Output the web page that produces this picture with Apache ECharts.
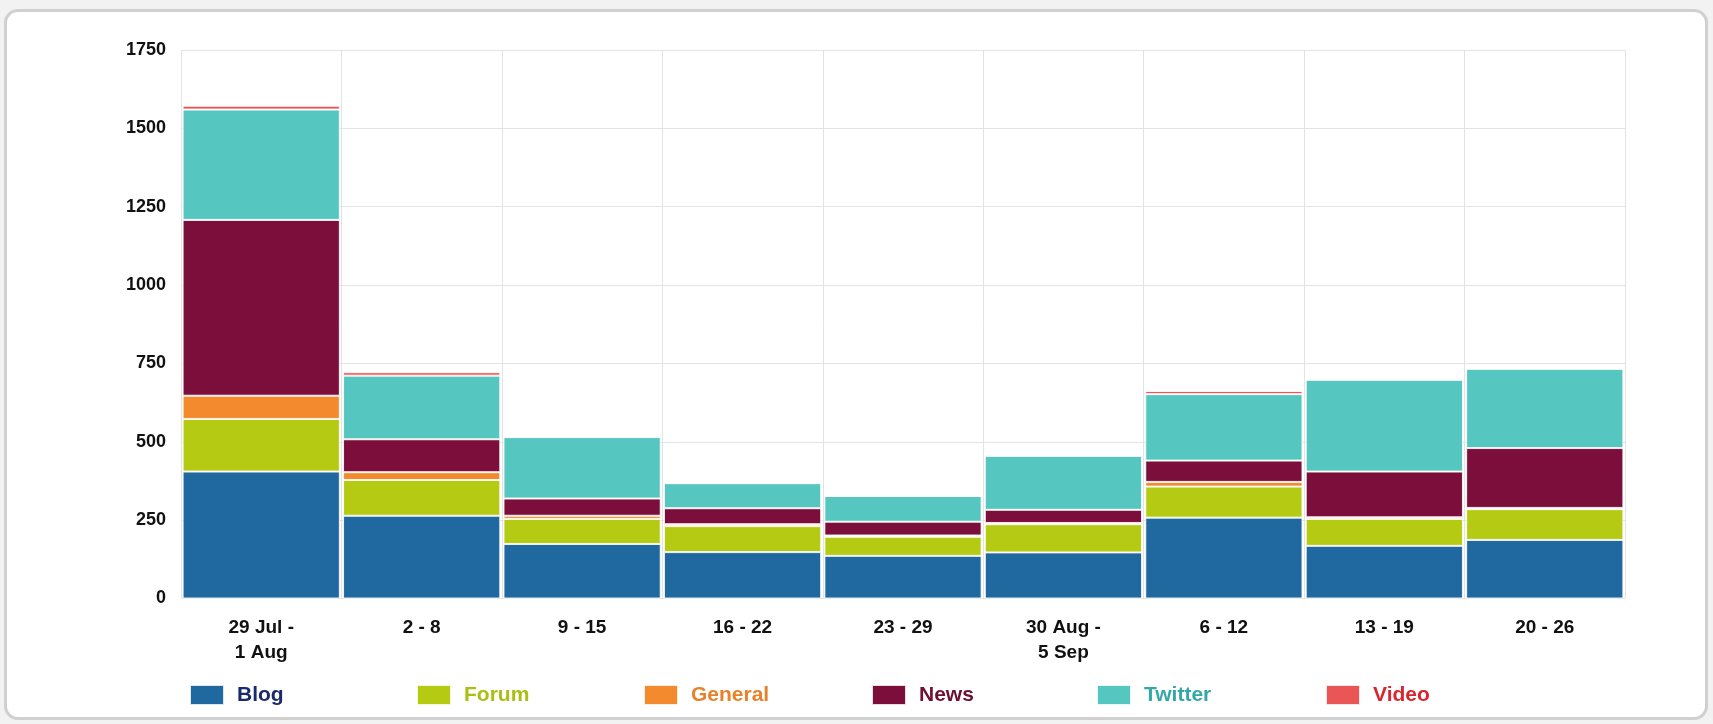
<!DOCTYPE html>
<html>
<head>
<meta charset="utf-8">
<script src="https://cdn.jsdelivr.net/npm/echarts@6/dist/echarts.min.js"></script>
<style>
  html, body { margin: 0; padding: 0; background: #f2f2f2; }
  #panel { position: absolute; left: 4px; top: 9px; width: 1698px; height: 705px;
           background: #ffffff; border: 3px solid #d0d0d0; border-radius: 14px; }
  #chart { position: absolute; left: 0; top: 0; width: 1713px; height: 724px; }
</style>
</head>
<body>
<div id="panel"></div>
<div id="chart"></div>
<script>
const categories = ["29 Jul -\n1 Aug", "2 - 8", "9 - 15", "16 - 22", "23 - 29", "30 Aug -\n5 Sep", "6 - 12", "13 - 19", "20 - 26"];
const seriesNames = ["Blog", "Forum", "General", "News", "Twitter", "Video"];
const blog    = [405, 264, 174, 148, 136, 147, 258, 168, 187];
const forum   = [168, 114,  80,  83,  61,  90,  99,  86,  98];
const general = [ 74,  25,  10,   6,   4,   4,  15,   5,   4];
const news    = [561, 105,  55,  51,  44,  42,  68, 146, 191];
const twitter = [352, 203, 196,  80,  82, 172, 212, 293, 253];
const video   = [ 12,  11,   2,   0,   0,   3,  10,   0,   0];
const yTicks  = [0, 250, 500, 750, 1000, 1250, 1500, 1750];

const colors = ["#1f69a0", "#b5cb13", "#f48a2e", "#7c0e3b", "#55c7c0", "#ea5555"];
const textColors = ["#1b2a6c", "#a9bf12", "#e6822a", "#6e1030", "#34a8a5", "#d8262e"];
const values = [blog, forum, general, news, twitter, video];
const legendLefts = [189, 416, 643, 871, 1096, 1325];

const chart = echarts.init(document.getElementById('chart'), null, { renderer: 'canvas' });
const font = '"Liberation Sans", Arial, sans-serif';

const option = {
  backgroundColor: 'transparent',
  animation: false,
  grid: { left: 181, right: 88, top: 50, bottom: 125.5, containLabel: false },
  legend: seriesNames.map((n, i) => ({
    left: legendLefts[i], top: 684, padding: 0,
    itemWidth: 34, itemHeight: 20,
    icon: 'rect',
    data: [n],
    selectedMode: false,
    textStyle: {
      color: textColors[i], fontFamily: font, fontWeight: 'bold', fontSize: 21,
      padding: [0, 0, 0, 8]
    }
  })),
  xAxis: {
    type: 'category',
    data: categories,
    boundaryGap: true,
    axisLine: { show: false },
    axisTick: { show: false },
    splitLine: { show: true, lineStyle: { color: '#e3e3e3', width: 1 } },
    axisLabel: {
      interval: 0, margin: 17, color: '#111', fontFamily: font,
      fontWeight: 'bold', fontSize: 19, lineHeight: 25
    }
  },
  yAxis: {
    type: 'value',
    min: yTicks[0], max: yTicks[yTicks.length - 1], interval: 250,
    axisLine: { show: false },
    axisTick: { show: false },
    splitLine: { show: true, lineStyle: { color: '#e3e3e3', width: 1 } },
    axisLabel: {
      margin: 15, color: '#111', fontFamily: font, fontWeight: 'bold', fontSize: 18,
      formatter: v => String(v)
    }
  },
  series: seriesNames.map((n, i) => ({
    name: n,
    type: 'bar',
    stack: 'total',
    data: values[i],
    barCategoryGap: '2%',
    itemStyle: { color: colors[i], borderColor: 'rgba(255,255,255,0.85)', borderWidth: 1 },
    emphasis: { disabled: true }
  }))
};
chart.setOption(option);
</script>
</body>
</html>
